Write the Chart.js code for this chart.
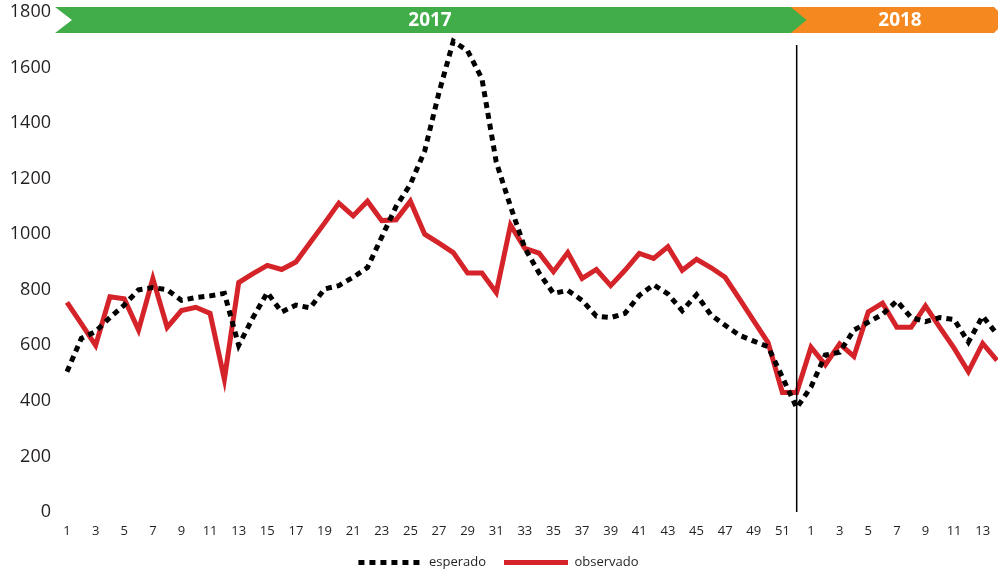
<!DOCTYPE html>
<html>
<head>
<meta charset="utf-8">
<script src="https://cdn.jsdelivr.net/npm/chart.js@4/dist/chart.umd.min.js"></script>
<style>
  html, body { margin: 0; padding: 0; background: #fff; }
  #wrap { width: 998px; height: 572px; position: relative; }
</style>
</head>
<body>
<div id="wrap"><canvas id="chart"></canvas></div>
<script>
// weeks: 2017 (1-52) then 2018 (1-14)
const weeks2017 = Array.from({ length: 52 }, (_, i) => String(i + 1));
const weeks2018 = Array.from({ length: 14 }, (_, i) => String(i + 1));
const weekLabels = weeks2017.concat(weeks2018);

const yearLabels = ['2017', '2018'];
const yTicks = [0, 200, 400, 600, 800, 1000, 1200, 1400, 1600, 1800];

// expected cases (dotted black)
const esperado = [
    505, 625, 650, 700, 745, 800, 808, 800, 762, 772,
    778, 787, 600, 700, 790, 720, 745, 735, 803, 815,
    845, 880, 990, 1100, 1180, 1300, 1510, 1695, 1660, 1560,
    1260, 1100, 950, 860, 787, 798, 762, 705, 700, 715,
    780, 818, 785, 725, 782, 710, 672, 636, 615, 595,
    485, 375,
    450, 565, 575, 655, 683, 712, 760, 700, 685, 700,
    693, 612, 705, 640
];

// observed cases (red)
const observado = [
    755, 678, 600, 775, 768, 655, 840, 665, 725, 737,
    715, 478, 826, 858, 888, 873, 900, 970, 1040, 1112,
    1066, 1119, 1049, 1052, 1119, 1000, 968, 934, 860, 860,
    790, 1033, 949, 932, 865, 934, 841, 873, 815, 870,
    931, 913, 955, 870, 910, 880, 845, 767, 688, 610,
    430, 430,
    593, 530, 605, 560, 720, 752, 665, 665, 742, 665,
    590, 505, 607, 546
];

const GREEN = 'rgb(65,173,73)';
const ORANGE = 'rgb(245,137,32)';
const RED = 'rgb(213,35,42)';
const TXT = '#231f20';

// year banner across the top + divider line at week 52
const yearBanner = {
    id: 'yearBanner',
    afterDraw(chart) {
        const ctx = chart.ctx;
        const x = chart.scales.x;
        const b = x.getPixelForValue(51);
        const top = 7, bot = 33, mid = 20;
        ctx.save();
        // orange 2018 part
        ctx.fillStyle = ORANGE;
        ctx.beginPath();
        ctx.moveTo(b - 8, top);
        ctx.lineTo(chart.width - 4, top);
        ctx.lineTo(chart.width, top + 4);
        ctx.lineTo(chart.width, bot - 4);
        ctx.lineTo(chart.width - 4, bot);
        ctx.lineTo(b - 8, bot);
        ctx.closePath();
        ctx.fill();
        // green 2017 arrow
        ctx.fillStyle = GREEN;
        ctx.beginPath();
        ctx.moveTo(55, top);
        ctx.lineTo(b - 6, top);
        ctx.lineTo(b + 10, mid);
        ctx.lineTo(b - 6, bot);
        ctx.lineTo(55, bot);
        ctx.lineTo(72, mid);
        ctx.closePath();
        ctx.fill();
        ctx.fillStyle = '#fff';
        ctx.font = 'bold 19px "Open Sans"';
        ctx.textAlign = 'center';
        ctx.textBaseline = 'middle';
        ctx.fillText(yearLabels[0], 430, mid + 1);
        ctx.fillText(yearLabels[1], 900, mid + 1);
        // divider
        ctx.strokeStyle = '#000';
        ctx.lineWidth = 1.5;
        ctx.beginPath();
        ctx.moveTo(b, 45);
        ctx.lineTo(b, chart.chartArea.bottom);
        ctx.stroke();
        ctx.restore();
    }
};

window.onload = function () {
    const ctx = document.getElementById('chart').getContext('2d');
    new Chart(ctx, {
        type: 'line',
        data: {
            labels: weekLabels,
            datasets: [{
                label: 'esperado',
                data: esperado,
                borderColor: '#000',
                backgroundColor: '#000',
                borderWidth: 5,
                borderDash: [6, 5],
                pointRadius: 0,
                tension: 0,
                fill: false
            }, {
                label: 'observado',
                data: observado,
                borderColor: RED,
                backgroundColor: RED,
                borderWidth: 5,
                pointRadius: 0,
                tension: 0,
                fill: false
            }]
        },
        options: {
            responsive: true,
            maintainAspectRatio: false,
            animation: false,
            layout: { padding: { top: 0, right: 1, left: 0, bottom: 0 } },
            plugins: {
                tooltip: { enabled: false },
                legend: {
                    position: 'bottom',
                    maxHeight: 34,
                    labels: {
                        usePointStyle: true,
                        pointStyleWidth: 64,
                        padding: 18,
                        color: TXT,
                        font: { family: '"Open Sans"', size: 13 },
                        generateLabels: (chart) => chart.data.datasets.map((ds, i) => ({
                            text: ds.label,
                            strokeStyle: ds.borderColor,
                            fillStyle: ds.borderColor,
                            lineWidth: ds.borderWidth,
                            lineDash: ds.borderDash || [],
                            pointStyle: 'line',
                            hidden: false,
                            fontColor: TXT,
                            datasetIndex: i
                        }))
                    }
                }
            },
            scales: {
                x: {
                    grid: { display: false, drawTicks: false },
                    border: { display: false },
                    afterFit: (s) => { s.height = 26; s.paddingLeft = 0; s.paddingRight = 0; },
                    ticks: {
                        autoSkip: false,
                        maxRotation: 0,
                        padding: 11,
                        color: TXT,
                        font: { family: '"Open Sans"', size: 13 },
                        callback: (v, i) => (i % 2 === 0 ? weekLabels[i] : '')
                    }
                },
                y: {
                    min: yTicks[0],
                    max: yTicks[yTicks.length - 1],
                    grid: { display: false, drawTicks: false },
                    border: { display: false },
                    afterFit: (s) => { s.width = 67; s.paddingTop = 12; s.paddingBottom = 0; },
                    ticks: {
                        stepSize: 200,
                        padding: 16,
                        color: TXT,
                        font: { family: '"Open Sans"', size: 18 },
                        callback: (v) => String(v)
                    }
                }
            }
        },
        plugins: [yearBanner]
    });
};
</script>
</body>
</html>
